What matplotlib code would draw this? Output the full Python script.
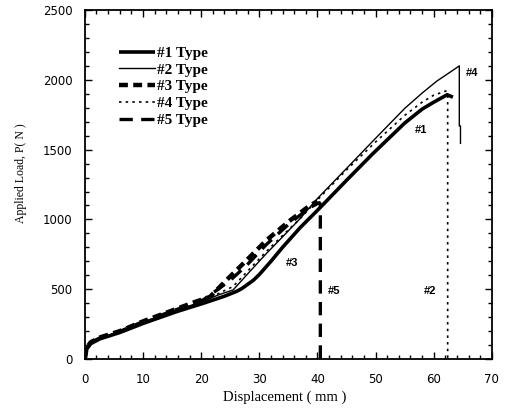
import matplotlib.pyplot as plt
from matplotlib.ticker import MultipleLocator

# curve data (displacement mm, load N)
d1 = [0, 0.3, 1, 2.6, 6, 10, 15.8, 20.4, 24, 26.1, 27, 28, 29, 30, 32, 34, 37, 40, 45, 49.5, 55, 58, 60, 62.3, 63.3]
p1 = [0, 70, 110, 145, 190, 255, 340, 400, 450, 485, 505, 535, 565, 605, 700, 800, 940, 1065, 1280, 1470, 1690, 1790, 1840, 1893, 1876]

d2 = [0, 0.3, 1, 2.6, 6, 10, 15.8, 20.4, 23, 25.5, 28, 31.2, 34, 37, 40, 45, 49.5, 55, 58, 60.5, 63, 64.4, 64.4, 64.6, 64.6]
p2 = [0, 75, 115, 150, 195, 265, 350, 415, 460, 495, 610, 755, 875, 1005, 1150, 1365, 1560, 1795, 1905, 1990, 2060, 2100, 1670, 1670, 1545]

d3 = [0, 0.3, 1, 2.6, 6, 10, 15.8, 19, 21.5, 24.9, 27.8, 31.2, 35.3, 38.7, 40]
p3 = [0, 80, 120, 155, 200, 270, 360, 410, 445, 588, 707, 850, 993, 1100, 1130]

d4 = [0, 0.3, 1, 2.6, 6, 10, 15.8, 20.4, 23, 25.5, 28, 31.2, 34, 37, 40, 45, 50, 55, 58, 60, 62.1, 62.4, 62.4]
p4 = [0, 75, 115, 150, 195, 265, 350, 415, 470, 520, 630, 770, 885, 1005, 1140, 1355, 1555, 1745, 1840, 1890, 1920, 1900, 0]

d5 = [0, 0.3, 1, 2.6, 6, 10, 15.8, 20.4, 24.9, 27.8, 31.2, 35.3, 38.7, 40.3, 40.5, 40.5]
p5 = [0, 78, 118, 152, 198, 268, 355, 425, 560, 670, 820, 975, 1085, 1120, 1110, 0]

labels = ["#1 Type", "#2 Type", "#3 Type", "#4 Type", "#5 Type"]

plt.rcParams['font.family'] = ['Liberation Serif', 'DejaVu Serif']

fig = plt.figure(figsize=(5.05, 4.18), dpi=100)
ax = fig.add_axes([0.168, 0.141, 0.806, 0.835])

ax.plot(d1, p1, color='black', lw=2.6, solid_capstyle='butt', label=labels[0])
ax.plot(d2, p2, color='black', lw=1.0, label=labels[1])
ax.plot(d3, p3, color='black', lw=3.2, dashes=(2.0, 1.2), label=labels[2])
ax.plot(d4, p4, color='black', lw=1.2, dashes=(1.5, 2.5), label=labels[3])
ax.plot(d5, p5, color='black', lw=2.4, dashes=(4, 2.5), label=labels[4])

ax.set_xlim(0, 70)
ax.set_ylim(0, 2500)
ax.xaxis.set_major_locator(MultipleLocator(10))
ax.xaxis.set_minor_locator(MultipleLocator(2))
ax.yaxis.set_major_locator(MultipleLocator(500))
ax.yaxis.set_minor_locator(MultipleLocator(100))
ax.tick_params(which='both', direction='in', top=True, right=True, width=1.0)
ax.tick_params(which='major', length=5)
ax.tick_params(which='minor', length=3)
ax.tick_params(axis='y', which='major', pad=9)
ax.tick_params(axis='x', which='major', pad=10)
for lab in ax.get_xticklabels() + ax.get_yticklabels():
    lab.set_family(['DejaVu Sans'])
    lab.set_fontsize(8.5)
for s in ax.spines.values():
    s.set_linewidth(1.3)

ax.set_xlabel("Displacement ( mm )", fontsize=10.5)
ax.set_ylabel("Applied Load, P( N )", fontsize=8.5)
ax.xaxis.set_label_coords(0.49, -0.09)
ax.yaxis.set_label_coords(-0.142, 0.533)

# curve tags
tags = [("#4", 65.6, 2050), ("#1", 56.8, 1640), ("#3", 34.6, 690),
        ("#5", 41.8, 490), ("#2", 58.3, 490)]
for t, x, y in tags:
    ax.text(x, y, t, fontsize=8, fontweight='bold', family=['Liberation Sans', 'DejaVu Sans'],
            ha='left', va='center')

leg = ax.legend(loc='upper left', bbox_to_anchor=(0.064, 0.918), frameon=False,
                prop={'size': 11, 'weight': 'bold'}, handlelength=2.4, handletextpad=0.1,
                labelspacing=0.2, borderpad=0)

fig.savefig("out.png", dpi=100)
